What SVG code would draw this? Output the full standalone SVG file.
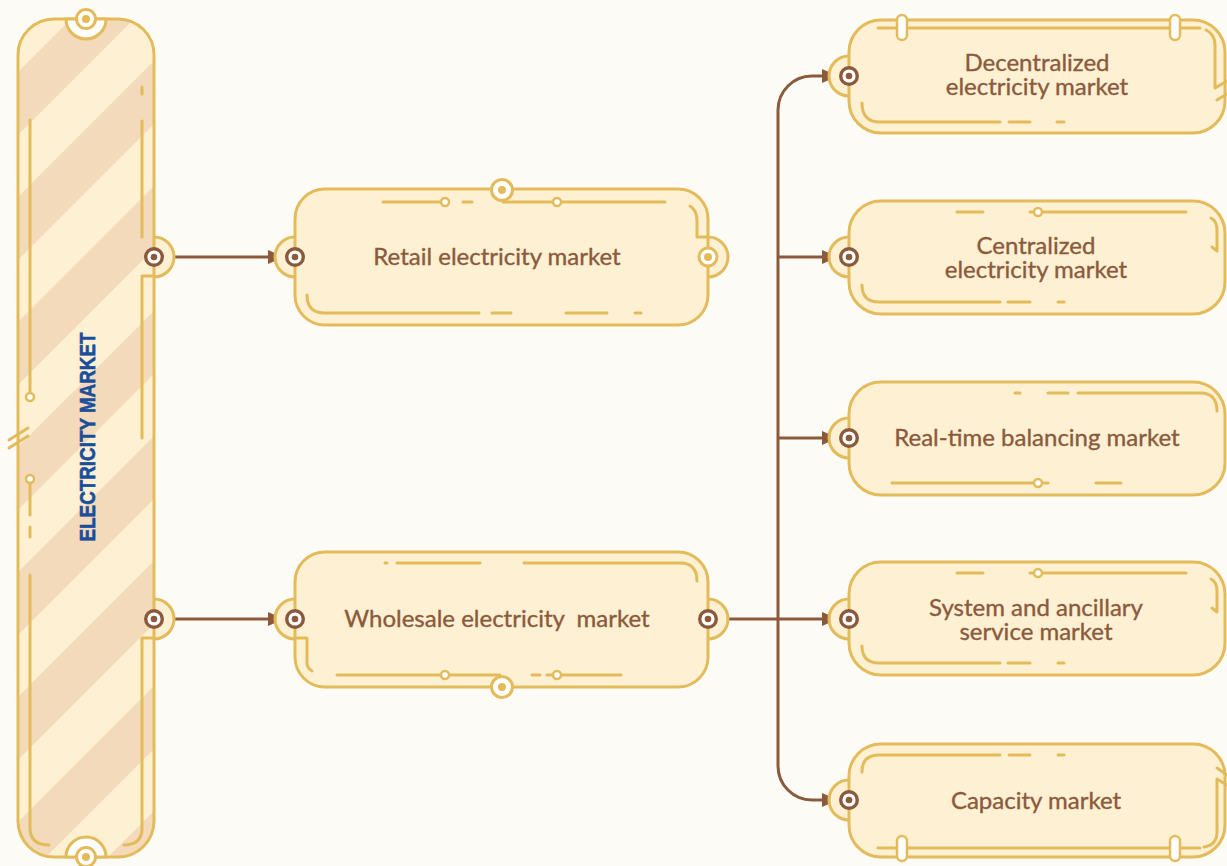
<svg xmlns="http://www.w3.org/2000/svg" width="1227" height="866" viewBox="0 0 1227 866">
  <defs>
    <style>
      .box { fill: #FEF0D2; stroke: #E3BB5A; stroke-width: 3; }
      .edge { fill: none; stroke: #E3BB5A; stroke-width: 3; }
      .deco { fill: none; stroke: #E3BB5A; stroke-width: 3; stroke-linecap: round; stroke-linejoin: round; }
      .knot { fill: #FFFFFF; stroke: #E3BB5A; stroke-width: 2.5; }
      .ring { fill: #FFFFFF; stroke: #E3BB5A; stroke-width: 3; }
      .dot { fill: #E3BB5A; }
      .pill { fill: #FFFFFF; stroke: #E3BB5A; stroke-width: 2.5; }
      .port { fill: #FFFFFF; stroke: #8B5A3C; stroke-width: 3.4; }
      .port-dot { fill: #8B5A3C; }
      .link { fill: none; stroke: #8B5A3C; stroke-width: 3; }
      .label { font-family: Lato, "Liberation Sans", sans-serif; font-size: 24px; fill: #8B5A3C; stroke: #8B5A3C; stroke-width: 0.35; text-anchor: middle; }
      .title { font-family: "Liberation Sans", Arial, sans-serif; font-weight: bold; font-size: 21.5px; fill: #1B4E9B; stroke: #1B4E9B; stroke-width: 0.6; text-anchor: middle; }
    </style>
    <!-- diagonal candy stripes for the root column -->
    <pattern id="candy" patternUnits="userSpaceOnUse" width="88.39" height="88.39" patternTransform="rotate(45)">
      <rect x="63.64" y="0" width="44.5" height="88.39" fill="#F2DABA"/>
      <rect x="-24.75" y="0" width="44.5" height="88.39" fill="#F2DABA"/>
    </pattern>
    <marker id="arrow" markerUnits="userSpaceOnUse" viewBox="0 0 16 14" markerWidth="16" markerHeight="14" refX="16" refY="7" orient="auto">
      <path d="M0,0 L16,7 L0,14 z" fill="#8B5A3C"/>
    </marker>
  </defs>

  <rect x="0" y="0" width="1227" height="866" fill="#FDFBF6"/>

  <!-- Connectors -->
  <g id="connectors">
    <path class="link" d="M154,257 H284" marker-end="url(#arrow)"/>
    <path class="link" d="M154,619 H284" marker-end="url(#arrow)"/>
    <path class="link" d="M708,619 H838" marker-end="url(#arrow)"/>
    <path class="link" d="M778,438 V110 A34,34 0 0 1 812,76 H838" marker-end="url(#arrow)"/>
    <path class="link" d="M778,438 V766 A34,34 0 0 0 812,800 H838" marker-end="url(#arrow)"/>
    <path class="link" d="M778,257 H838" marker-end="url(#arrow)"/>
    <path class="link" d="M778,438 H838" marker-end="url(#arrow)"/>
  </g>

  <!-- Root column -->
  <g id="electricity-market">
    <circle class="box" cx="154" cy="257" r="20"/>
    <circle class="box" cx="154" cy="619" r="20"/>
    <rect x="18" y="19" width="136" height="838" rx="36" fill="#FEF0D2"/>
    <rect x="18" y="19" width="136" height="838" rx="36" fill="url(#candy)"/>
    <path class="deco" d="M30,120 V393"/>
    <circle class="knot" cx="30" cy="397" r="4"/>
    <circle class="knot" cx="30" cy="479" r="4"/>
    <path class="deco" d="M30,483 V515 M30,527 V537"/>
    <path class="deco" d="M30,575 V828 Q30,845 49,845"/>
    <path class="deco" d="M142,87 V94 M142,121 V237"/>
    <path class="deco" d="M154,276 H142 V438"/>
    <path class="deco" d="M154,638 H142 V828 Q142,845 124,845"/>
    <rect class="edge" x="18" y="19" width="136" height="838" rx="36"/>
    <path class="deco" d="M9,440 L28,428 M9,448 L28,436"/>
    <path d="M66,19 A20,20 0 0 0 106,19 Z" fill="#FFFFFF" stroke="#E3BB5A" stroke-width="3"/>
    <circle class="ring" cx="86" cy="19" r="9.5"/>
    <circle class="dot" cx="86" cy="19" r="4"/>
    <path d="M66,857 A20,20 0 0 1 106,857 Z" fill="#FFFFFF" stroke="#E3BB5A" stroke-width="3"/>
    <circle class="ring" cx="86" cy="857" r="9.5"/>
    <circle class="dot" cx="86" cy="857" r="4"/>
    <circle class="port" cx="154" cy="257" r="8.3"/>
    <circle class="port-dot" cx="154" cy="257" r="3.3"/>
    <circle class="port" cx="154" cy="619" r="8.3"/>
    <circle class="port-dot" cx="154" cy="619" r="3.3"/>
    <text class="title" transform="translate(95,437) rotate(-90)" textLength="209" lengthAdjust="spacingAndGlyphs">ELECTRICITY MARKET</text>
  </g>

  <!-- Retail -->
  <g id="retail">
    <circle class="box" cx="295" cy="257" r="20"/>
    <circle class="box" cx="708" cy="257" r="20"/>
    <rect class="box" x="295" y="189" width="413" height="136" rx="30"/>
    <path class="deco" d="M383,202 H445 M463,202 H472 M503,202 H665"/>
    <circle class="knot" cx="445" cy="202" r="4"/>
    <circle class="knot" cx="557" cy="202" r="4"/>
    <path class="deco" d="M690,206 Q697,210 697,221 V237 H708"/>
    <path class="deco" d="M307,295 Q307,313 325,313 H479 M492,313 H511 M566,313 H607 M635,313 H641"/>
    <circle class="ring" cx="502" cy="190" r="10.5"/>
    <circle class="dot" cx="502" cy="190" r="4"/>
    <circle class="ring" cx="708" cy="257" r="9"/>
    <circle class="dot" cx="708" cy="257" r="4"/>
    <circle class="port" cx="295" cy="257" r="8.3"/>
    <circle class="port-dot" cx="295" cy="257" r="3.3"/>
    <text class="label" x="497" y="265">Retail electricity market</text>
  </g>

  <!-- Wholesale -->
  <g id="wholesale">
    <circle class="box" cx="295" cy="619" r="20"/>
    <circle class="box" cx="708" cy="619" r="20"/>
    <rect class="box" x="295" y="552" width="413" height="135" rx="30"/>
    <path class="deco" d="M385,563 H387 M397,563 H480 M524,563 H680 Q697,563 697,581"/>
    <path class="deco" d="M295,638 H307 V663 Q307,668 312,671"/>
    <path class="deco" d="M337,675 H500 M532,675 H540 M547,675 H621"/>
    <circle class="knot" cx="445" cy="675" r="4"/>
    <circle class="knot" cx="557" cy="675" r="4"/>
    <circle class="ring" cx="502" cy="687" r="10.5"/>
    <circle class="dot" cx="502" cy="687" r="4"/>
    <circle class="port" cx="295" cy="619" r="8.3"/>
    <circle class="port-dot" cx="295" cy="619" r="3.3"/>
    <circle class="port" cx="708" cy="619" r="8.3"/>
    <circle class="port-dot" cx="708" cy="619" r="3.3"/>
    <text class="label" x="497" y="627" xml:space="preserve">Wholesale electricity  market</text>
  </g>

  <!-- Decentralized -->
  <g id="decentralized">
    <circle class="box" cx="849" cy="76" r="20"/>
    <rect class="box" x="849" y="20" width="376" height="113" rx="32"/>
    <path class="deco" d="M878,28 H1200"/>
    <path class="deco" d="M1206,30 Q1215,34 1215,45 V88 L1227,81 M1217,100 L1227,94"/>
    <path class="deco" d="M862,103 Q862,122 880,122 H1000 M1009,122 H1030 M1057,122 H1064"/>
    <rect class="pill" x="897" y="15" width="10" height="25" rx="5"/>
    <rect class="pill" x="1170" y="15" width="10" height="25" rx="5"/>
    <circle class="port" cx="849" cy="76" r="8.3"/>
    <circle class="port-dot" cx="849" cy="76" r="3.3"/>
    <text class="label"><tspan x="1037" y="71">Decentralized</tspan><tspan x="1037" y="95">electricity market</tspan></text>
  </g>

  <!-- Centralized -->
  <g id="centralized">
    <circle class="box" cx="849" cy="257" r="20"/>
    <rect class="box" x="849" y="201" width="376" height="113" rx="32"/>
    <path class="deco" d="M957,212 H983 M1030,212 H1186"/>
    <circle class="knot" cx="1038" cy="212" r="4"/>
    <path class="deco" d="M1211,218 Q1217,221 1217,230 V251 L1212,247"/>
    <path class="deco" d="M862,285 Q862,302 879,302 H1000 M1008,302 H1030 M1058,302 H1064"/>
    <circle class="port" cx="849" cy="257" r="8.3"/>
    <circle class="port-dot" cx="849" cy="257" r="3.3"/>
    <text class="label"><tspan x="1036" y="254">Centralized</tspan><tspan x="1036" y="278">electricity market</tspan></text>
  </g>

  <!-- Real-time balancing -->
  <g id="balancing">
    <circle class="box" cx="849" cy="438" r="20"/>
    <rect class="box" x="849" y="382" width="376" height="113" rx="32"/>
    <path class="deco" d="M1015,393 H1020 M1048,393 H1068 M1078,393 H1200 Q1217,393 1217,411"/>
    <path class="deco" d="M892,483 H1048 M1096,483 H1121"/>
    <circle class="knot" cx="1038" cy="483" r="4"/>
    <circle class="port" cx="849" cy="438" r="8.3"/>
    <circle class="port-dot" cx="849" cy="438" r="3.3"/>
    <text class="label" x="1037" y="446">Real-time balancing market</text>
  </g>

  <!-- System and ancillary service -->
  <g id="ancillary">
    <circle class="box" cx="849" cy="619" r="20"/>
    <rect class="box" x="849" y="562" width="376" height="113" rx="32"/>
    <path class="deco" d="M957,573 H983 M1030,573 H1186"/>
    <circle class="knot" cx="1038" cy="573" r="4"/>
    <path class="deco" d="M1211,579 Q1217,582 1217,591 V612 L1212,608"/>
    <path class="deco" d="M862,646 Q862,663 879,663 H1000 M1008,663 H1030 M1058,663 H1064"/>
    <circle class="port" cx="849" cy="619" r="8.3"/>
    <circle class="port-dot" cx="849" cy="619" r="3.3"/>
    <text class="label"><tspan x="1036" y="616">System and ancillary</tspan><tspan x="1036" y="640">service market</tspan></text>
  </g>

  <!-- Capacity -->
  <g id="capacity">
    <circle class="box" cx="849" cy="800" r="20"/>
    <rect class="box" x="849" y="744" width="376" height="113" rx="32"/>
    <path class="deco" d="M862,772 Q862,755 879,755 H1000 M1009,755 H1030 M1058,755 H1064"/>
    <path class="deco" d="M878,848 H1200"/>
    <path class="deco" d="M1217,768 L1227,775 M1227,785 L1217,779 V832 Q1217,845 1204,847"/>
    <rect class="pill" x="897" y="836" width="10" height="25" rx="5"/>
    <rect class="pill" x="1170" y="836" width="10" height="25" rx="5"/>
    <circle class="port" cx="849" cy="800" r="8.3"/>
    <circle class="port-dot" cx="849" cy="800" r="3.3"/>
    <text class="label" x="1036" y="809">Capacity market</text>
  </g>
</svg>
